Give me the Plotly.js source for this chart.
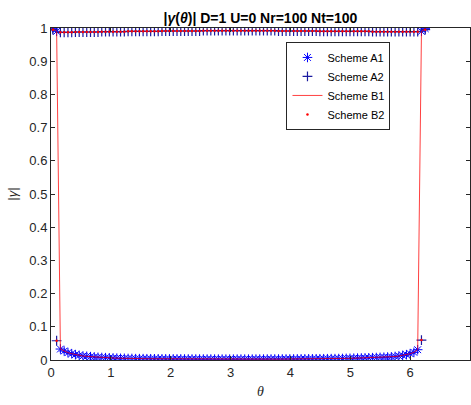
<!DOCTYPE html>
<html>
<head>
<meta charset="utf-8">
<script src="https://cdn.plot.ly/plotly-3.0.1.min.js"></script>
<style>
html,body{margin:0;padding:0;background:#fff;}
#chart{width:471px;height:405px;}
</style>
</head>
<body>
<div id="chart"></div>
<script>
// theta grid (radians)
var theta = [0.031,0.094,0.157,0.220,0.283,0.346,0.408,0.471,0.534,0.597,
0.660,0.723,0.785,0.848,0.911,0.974,1.037,1.100,1.162,1.225,
1.288,1.351,1.414,1.477,1.539,1.602,1.665,1.728,1.791,1.854,
1.916,1.979,2.042,2.105,2.168,2.231,2.293,2.356,2.419,2.482,
2.545,2.608,2.670,2.733,2.796,2.859,2.922,2.985,3.047,3.110,
3.173,3.236,3.299,3.362,3.424,3.487,3.550,3.613,3.676,3.738,
3.801,3.864,3.927,3.990,4.053,4.115,4.178,4.241,4.304,4.367,
4.430,4.492,4.555,4.618,4.681,4.744,4.807,4.869,4.932,4.995,
5.058,5.121,5.184,5.246,5.309,5.372,5.435,5.498,5.561,5.623,
5.686,5.749,5.812,5.875,5.938,6.000,6.063,6.126,6.189,6.252];

// root 1 magnitude (Scheme A1 / B1)
var root1 = [0.998,0.990,0.033,0.027,0.022,0.019,0.016,0.014,0.012,0.011,
0.010,0.009,0.008,0.0075,0.007,0.0065,0.006,0.0055,0.005,0.005,
0.0045,0.0045,0.004,0.004,0.004,0.0038,0.0037,0.0036,0.0035,0.0034,
0.0033,0.0032,0.0031,0.0030,0.0030,0.0029,0.0029,0.0028,0.0028,0.0027,
0.0027,0.0026,0.0026,0.0026,0.0025,0.0025,0.0025,0.0025,0.0025,0.0025,
0.0025,0.0025,0.0025,0.0025,0.0026,0.0026,0.0026,0.0027,0.0027,0.0028,
0.0028,0.0029,0.0029,0.0030,0.0030,0.0031,0.0032,0.0033,0.0034,0.0035,
0.0036,0.0037,0.0038,0.0039,0.0040,0.0041,0.0043,0.0045,0.0047,0.0050,
0.0053,0.0056,0.0059,0.0062,0.0066,0.0070,0.0074,0.0078,0.0082,0.0088,
0.0095,0.0105,0.012,0.014,0.016,0.019,0.023,0.031,0.990,0.998];

// root 2 magnitude (Scheme A2 / B2)
var root2 = [0.995,0.058,0.987,0.987,0.987,0.987,0.988,0.988,0.988,0.988,
0.988,0.988,0.988,0.989,0.989,0.989,0.989,0.989,0.989,0.989,
0.990,0.990,0.990,0.990,0.990,0.990,0.990,0.990,0.990,0.991,
0.991,0.991,0.991,0.991,0.991,0.991,0.991,0.991,0.991,0.991,
0.992,0.992,0.992,0.992,0.992,0.992,0.992,0.992,0.992,0.992,
0.992,0.992,0.992,0.992,0.992,0.992,0.992,0.992,0.992,0.992,
0.991,0.991,0.991,0.991,0.991,0.991,0.991,0.991,0.991,0.991,
0.991,0.990,0.990,0.990,0.990,0.990,0.990,0.990,0.990,0.990,
0.990,0.990,0.990,0.990,0.990,0.989,0.989,0.989,0.989,0.989,
0.989,0.989,0.989,0.989,0.989,0.989,0.989,0.989,0.060,0.995];

var seriesNames = ['Scheme A1','Scheme A2','Scheme B1','Scheme B2'];
var xTicks = [0,1,2,3,4,5,6,7];
var yTicks = [0,0.1,0.2,0.3,0.4,0.5,0.6,0.7,0.8,0.9,1];
var yTickText = ['0','0.1','0.2','0.3','0.4','0.5','0.6','0.7','0.8','0.9','1'];

var FONT = 'Liberation Sans, Arial, Helvetica, sans-serif';
var AX = '#262626';

var traces = [
  {x: theta, y: root1, name: seriesNames[0], type: 'scatter', mode: 'markers',
   marker: {symbol: 'asterisk-open', size: 8, color: '#0000ff', line: {width: 1, color: '#0000ff'}}},
  {x: theta, y: root2, name: seriesNames[1], type: 'scatter', mode: 'markers',
   marker: {symbol: 'cross-thin-open', size: 7, color: '#1a1aa0', line: {width: 1.2, color: '#1a1aa0'}}},
  {x: theta, y: root1, name: seriesNames[2], type: 'scatter', mode: 'lines',
   line: {color: '#ff0000', width: 1}, opacity: 0.75},
  {x: theta, y: root2, name: seriesNames[3], type: 'scatter', mode: 'markers',
   marker: {symbol: 'circle', size: 2.5, color: '#ff0000'}}
];

var layout = {
  width: 471, height: 405,
  margin: {l: 51, r: 1, t: 28, b: 45},
  paper_bgcolor: '#ffffff', plot_bgcolor: '#ffffff',
  font: {family: FONT, size: 12, color: AX},
  showlegend: true,
  title: {
    text: '<b>|<i>γ</i>(<i>θ</i>)| D=1 U=0 Nr=100 Nt=100</b>',
    font: {family: FONT, size: 14, color: '#000000'},
    x: 0.553, xanchor: 'center', xref: 'container',
    y: 0.955, yanchor: 'middle', yref: 'container'
  },
  xaxis: {
    range: [0, 7], tickvals: xTicks, ticktext: xTicks.map(String),
    ticks: 'inside', ticklen: 4, tickcolor: AX, tickwidth: 1,
    showline: true, linecolor: AX, linewidth: 1, mirror: 'ticks',
    showgrid: false, zeroline: false,
    tickfont: {family: FONT, size: 13, color: AX},
    title: {text: '<i>θ</i>', font: {family: 'Liberation Serif, Times New Roman, serif', size: 14, color: AX}, standoff: 7}
  },
  yaxis: {
    range: [0, 1], tickvals: yTicks, ticktext: yTickText,
    ticks: 'inside', ticklen: 4, tickcolor: AX, tickwidth: 1,
    showline: true, linecolor: AX, linewidth: 1, mirror: 'ticks',
    showgrid: false, zeroline: false,
    tickfont: {family: FONT, size: 13, color: AX},
    title: {text: '|<i>γ</i>|', font: {family: FONT, size: 13, color: AX}, standoff: 8}
  },
  legend: {
    x: 0.562, xanchor: 'left', y: 0.958, yanchor: 'top',
    bgcolor: '#ffffff', bordercolor: AX, borderwidth: 1,
    font: {family: FONT, size: 11, color: '#000000'},
    tracegroupgap: 0, itemwidth: 30
  }
};

Plotly.newPlot('chart', traces, layout, {displayModeBar: false, staticPlot: true});
</script>
</body>
</html>
